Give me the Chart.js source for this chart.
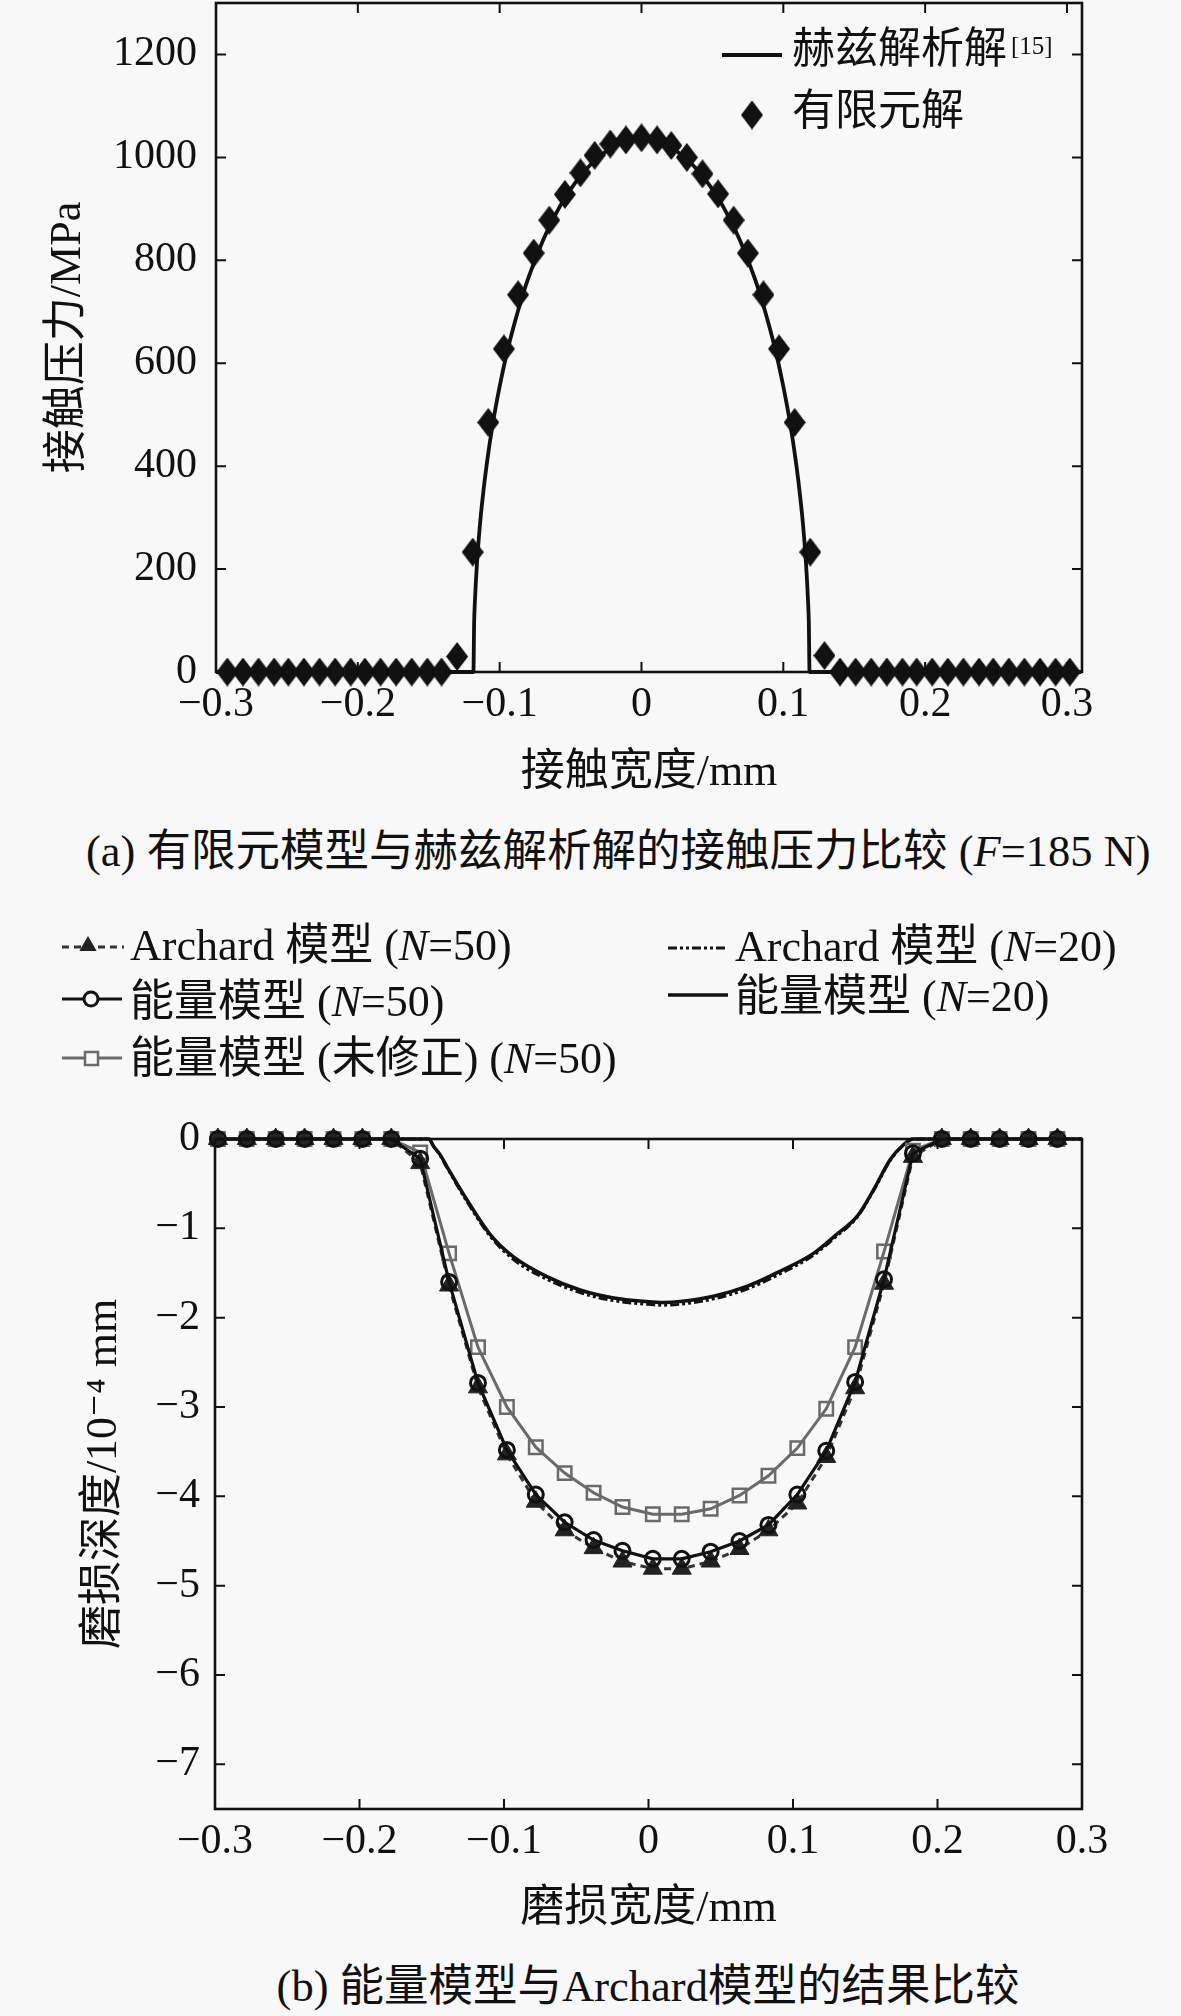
<!DOCTYPE html>
<html><head><meta charset="utf-8">
<script src="https://cdn.jsdelivr.net/npm/chart.js@4.4.1/dist/chart.umd.min.js"></script>
<style>
html,body{margin:0;padding:0;background:#f8f8f8;}
body{width:1181px;height:2016px;position:relative;overflow:hidden;}
canvas{position:absolute;left:0;}
#c1{top:0;} #c2{top:880px;}
.cap{position:absolute;font-size:44.5px;font-family:"Liberation Serif","Noto Sans CJK SC",serif;color:#111;white-space:nowrap;line-height:1;}
</style></head><body>
<canvas id="c1" width="1181" height="810"></canvas>
<canvas id="c2" width="1181" height="1080"></canvas>
<div class="cap" style="left:86px;top:829px;">(a) 有限元模型与赫兹解析解的接触压力比较 (<i>F</i>=185 N)</div>
<div class="cap" style="left:0;width:1296px;text-align:center;top:1964px;">(b) 能量模型与Archard模型的结果比较</div>
<script>
// ---------- Chart (a) data ----------
const xFE = [-0.292,-0.281,-0.270,-0.259,-0.249,-0.238,-0.227,-0.216,-0.205,-0.195,-0.184,-0.173,-0.162,-0.151,-0.141,
  -0.130,-0.119,-0.108,-0.097,-0.087,-0.076,-0.065,-0.054,-0.043,-0.033,-0.022,-0.011,0.000,
  0.011,0.021,0.032,0.043,0.054,0.065,0.075,0.086,0.097,0.108,0.119,0.129,
  0.140,0.151,0.162,0.173,0.184,0.194,0.205,0.216,0.227,0.238,0.248,0.259,0.270,0.281,0.292,0.302];
const pFE = [0,0,0,0,0,0,0,0,0,0,0,0,0,0,0,
  30,233,485,628,733,814,878,928,970,1004,1026,1034,1038,
  1034,1023,1000,968,929,878,814,733,628,485,233,32,
  0,0,0,0,0,0,0,0,0,0,0,0,0,0,0,0];
const xHertz = [-0.300,-0.1185,-0.1180,-0.1175,-0.116,-0.114,-0.112,-0.109,-0.105,-0.100,-0.095,-0.090,-0.085,-0.080,-0.070,-0.065,-0.055,-0.050,-0.040,-0.030,-0.020,-0.010,0.000,
  0.010,0.020,0.030,0.040,0.050,0.055,0.065,0.070,0.080,0.085,0.090,0.095,0.100,0.105,0.109,0.112,0.114,0.116,0.1175,0.1180,0.1185,0.310];
const pHertz = [0,0,95,134,211,283,338,406,480,555,619,673,721,764,835,865,917,938,974,1001,1020,1031,1035,
  1031,1020,1001,974,938,917,865,835,764,721,673,619,555,480,406,338,283,211,134,95,0,0];
const xTicksA = [-0.3,-0.2,-0.1,0,0.1,0.2,0.3];
const xTickLabelsA = ['\u22120.3','\u22120.2','\u22120.1','0','0.1','0.2','0.3'];
const yTicksA = [0,200,400,600,800,1000,1200];
const yTickLabelsA = ['0','200','400','600','800','1000','1200'];

// ---------- Chart (b) data ----------
const xWear = [-0.298,-0.278,-0.258,-0.238,-0.218,-0.198,-0.178,-0.158,-0.138,-0.118,-0.098,-0.078,-0.058,-0.038,-0.018,
  0.003,0.023,0.043,0.063,0.083,0.103,0.123,0.143,0.163,0.183,0.203,0.223,0.243,0.263,0.283];
const archard50 = [0,0,0,0,0,0,0,-0.27,-1.64,-2.78,-3.53,-4.06,-4.38,-4.58,-4.73,
  -4.81,-4.81,-4.73,-4.59,-4.38,-4.08,-3.56,-2.79,-1.62,-0.20,0,0,0,0,0];
const energy50 = [0,0,0,0,0,0,0,-0.22,-1.60,-2.73,-3.48,-3.98,-4.29,-4.49,-4.61,
  -4.70,-4.70,-4.62,-4.50,-4.32,-3.98,-3.49,-2.72,-1.57,-0.16,0,0,0,0,0];
const energyUncorr50 = [0,0,0,0,0,0,0,-0.15,-1.28,-2.33,-3.00,-3.45,-3.74,-3.96,-4.12,
  -4.20,-4.20,-4.14,-3.99,-3.77,-3.46,-3.02,-2.33,-1.26,-0.13,0,0,0,0,0];
const xN20 = [-0.300,-0.152,-0.1488,-0.144,-0.1395,-0.1257,-0.1095,-0.0934,-0.0703,-0.0473,-0.024,-0.001,0.010,0.0219,0.045,0.068,0.091,0.1142,0.130,0.1442,0.1557,0.1673,0.1765,0.1834,0.300];
const energy20 = [0,0,-0.08,-0.18,-0.31,-0.68,-1.07,-1.32,-1.54,-1.69,-1.78,-1.82,-1.83,-1.82,-1.76,-1.65,-1.48,-1.28,-1.07,-0.87,-0.57,-0.23,-0.064,0,0];
const archard20 = [0,0,-0.08,-0.19,-0.32,-0.70,-1.09,-1.35,-1.57,-1.72,-1.81,-1.85,-1.86,-1.85,-1.79,-1.68,-1.51,-1.30,-1.09,-0.88,-0.58,-0.24,-0.065,0,0];
const xTicksB = [-0.3,-0.2,-0.1,0,0.1,0.2,0.3];
const xTickLabelsB = ['\u22120.3','\u22120.2','\u22120.1','0','0.1','0.2','0.3'];
const yTicksB = [0,-1,-2,-3,-4,-5,-6,-7];
const yTickLabelsB = ['0','\u22121','\u22122','\u22123','\u22124','\u22125','\u22126','\u22127'];

// ---------- styling ----------
const FONT = '"Liberation Serif", "Noto Sans CJK SC", "DejaVu Serif", serif';
const INK = '#111';
const GRAY = '#6a6a6a';
const pts = (xs, ys) => xs.map((x, i) => ({x: x, y: ys[i]}));

const diamond = document.createElement('canvas');
diamond.width = 22; diamond.height = 29;
(function(){ const g = diamond.getContext('2d'); g.fillStyle = INK; g.beginPath();
  g.moveTo(11,0); g.lineTo(22,14.5); g.lineTo(11,29); g.lineTo(0,14.5); g.closePath(); g.fill(); })();

const boxTicks = {
  id: 'boxTicks',
  afterDraw(chart) {
    const {ctx, chartArea: a, scales: {x, y}} = chart;
    ctx.save();
    ctx.strokeStyle = INK; ctx.lineWidth = 2.6;
    ctx.strokeRect(a.left, a.top, a.right - a.left, a.bottom - a.top);
    ctx.lineWidth = 2; const L = 10;
    ctx.beginPath();
    x.ticks.forEach(t => { const p = x.getPixelForValue(t.value);
      ctx.moveTo(p, a.bottom); ctx.lineTo(p, a.bottom - L); ctx.moveTo(p, a.top); ctx.lineTo(p, a.top + L); });
    y.ticks.forEach(t => { const p = y.getPixelForValue(t.value);
      ctx.moveTo(a.left, p); ctx.lineTo(a.left + L, p); ctx.moveTo(a.right, p); ctx.lineTo(a.right - L, p); });
    ctx.stroke();
    ctx.restore();
  }
};

function drawRuns(ctx, x, y, runs, size) {
  ctx.textBaseline = 'middle'; ctx.textAlign = 'left'; ctx.fillStyle = INK;
  runs.forEach(r => { ctx.font = (r[1] ? 'italic ' : '') + size + 'px ' + FONT; ctx.fillText(r[0], x, y); x += ctx.measureText(r[0]).width; });
  return x;
}

const legendA = {
  id: 'legendA',
  afterDraw(chart) {
    const ctx = chart.ctx; ctx.save();
    ctx.strokeStyle = INK; ctx.lineWidth = 4;
    ctx.beginPath(); ctx.moveTo(722, 55); ctx.lineTo(782, 55); ctx.stroke();
    const end = drawRuns(ctx, 792, 52, [['赫兹解析解', false]], 43);
    ctx.font = '25px ' + FONT; ctx.textBaseline = 'alphabetic'; ctx.fillStyle = INK; ctx.fillText('[15]', end + 4, 54);
    ctx.drawImage(diamond, 752 - 11, 115 - 14.5);
    drawRuns(ctx, 792, 114, [['有限元解', false]], 43);
    ctx.restore();
  }
};

function tri(ctx, x, y, r) { ctx.beginPath(); ctx.moveTo(x, y - r); ctx.lineTo(x + r * 0.866, y + r / 2); ctx.lineTo(x - r * 0.866, y + r / 2); ctx.closePath(); }

const LF = 44;
const legendB = {
  id: 'legendB',
  afterDraw(chart) {
    const ctx = chart.ctx; const o = 880; ctx.save();
    // Archard N=50
    ctx.strokeStyle = '#333'; ctx.lineWidth = 3; ctx.setLineDash([7, 5]);
    ctx.beginPath(); ctx.moveTo(62, 947 - o); ctx.lineTo(124, 947 - o); ctx.stroke(); ctx.setLineDash([]);
    ctx.fillStyle = '#222'; tri(ctx, 88, 946 - o, 10); ctx.fill();
    drawRuns(ctx, 130, 948 - o, [['Archard 模型 (', false], ['N', true], ['=50)', false]], LF);
    // Energy N=50
    ctx.strokeStyle = INK; ctx.lineWidth = 3;
    ctx.beginPath(); ctx.moveTo(62, 999 - o); ctx.lineTo(122, 999 - o); ctx.stroke();
    ctx.fillStyle = '#f8f8f8'; ctx.beginPath(); ctx.arc(91, 999 - o, 7, 0, Math.PI * 2); ctx.fill(); ctx.stroke();
    drawRuns(ctx, 130, 1004 - o, [['能量模型 (', false], ['N', true], ['=50)', false]], LF);
    // Uncorrected
    ctx.strokeStyle = GRAY; ctx.lineWidth = 3;
    ctx.beginPath(); ctx.moveTo(62, 1058 - o); ctx.lineTo(122, 1058 - o); ctx.stroke();
    ctx.lineWidth = 2.5; ctx.fillStyle = '#f8f8f8'; ctx.fillRect(85, 1052 - o, 13, 13); ctx.strokeRect(85, 1052 - o, 13, 13);
    drawRuns(ctx, 130, 1061 - o, [['能量模型 (未修正) (', false], ['N', true], ['=50)', false]], LF);
    // Archard N=20
    ctx.strokeStyle = INK; ctx.lineWidth = 3; ctx.setLineDash([9, 3, 3, 3, 3, 3]);
    ctx.beginPath(); ctx.moveTo(668, 948 - o); ctx.lineTo(728, 948 - o); ctx.stroke(); ctx.setLineDash([]);
    drawRuns(ctx, 735, 949 - o, [['Archard 模型 (', false], ['N', true], ['=20)', false]], LF);
    // Energy N=20
    ctx.lineWidth = 3.5;
    ctx.beginPath(); ctx.moveTo(668, 995 - o); ctx.lineTo(728, 995 - o); ctx.stroke();
    drawRuns(ctx, 735, 999 - o, [['能量模型 (', false], ['N', true], ['=20)', false]], LF);
    ctx.restore();
  }
};

function axisCommon() {
  return {
    type: 'linear',
    grid: {display: false, drawTicks: false},
    border: {display: false},
  };
}
const tickFont = {size: 42, family: FONT};
const titleFont = {size: 44, family: FONT};

new Chart(document.getElementById('c1'), {
  type: 'scatter',
  data: {datasets: [
    {label: '有限元解', data: pts(xFE, pFE), pointStyle: diamond, pointRadius: 11, pointHoverRadius: 11, showLine: false, clip: false},
    {type: 'line', label: '赫兹解析解', data: pts(xHertz, pHertz), borderColor: INK, borderWidth: 3.8, pointRadius: 0, fill: false, cubicInterpolationMode: 'monotone', clip: false}
  ]},
  options: {
    responsive: false, animation: false, devicePixelRatio: 1,
    layout: {autoPadding: false, padding: {top: 3, right: 99, bottom: 0, left: 0}},
    plugins: {legend: {display: false}, tooltip: {enabled: false}},
    scales: {
      x: Object.assign(axisCommon(), {
        min: -0.3, max: 0.3106,
        afterBuildTicks: s => { s.ticks = xTicksA.map(v => ({value: v})); },
        afterFit: s => { s.height = 138; s.paddingLeft = 0; s.paddingRight = 0; },
        ticks: {autoSkip: false, maxRotation: 0, minRotation: 0, padding: 8, color: INK, font: tickFont, callback: (v, i) => xTickLabelsA[i]},
        title: {display: true, text: '接触宽度/mm', color: INK, font: titleFont, padding: {top: 0, bottom: 10}}
      }),
      y: Object.assign(axisCommon(), {
        min: 0, max: 1300,
        afterBuildTicks: s => { s.ticks = yTicksA.map(v => ({value: v})); },
        afterFit: s => { s.width = 216; s.paddingTop = 0; s.paddingBottom = 0; },
        ticks: {autoSkip: false, padding: 19, color: INK, font: tickFont, callback: (v, i) => yTickLabelsA[i]},
        title: {display: true, text: '接触压力/MPa', color: INK, font: titleFont, padding: {top: 42, bottom: 0}}
      })
    }
  },
  plugins: [boxTicks, legendA]
});

new Chart(document.getElementById('c2'), {
  type: 'scatter',
  data: {datasets: [
    {type: 'line', label: '能量模型 (N=50)', data: pts(xWear, energy50), borderColor: INK, borderWidth: 3.2, pointStyle: 'circle', pointRadius: 7.5, pointBorderWidth: 3, pointBorderColor: INK, pointBackgroundColor: 'rgba(0,0,0,0)', tension: 0, clip: false},
    {type: 'line', label: 'Archard 模型 (N=50)', data: pts(xWear, archard50), borderColor: '#333', borderWidth: 3, borderDash: [7, 5], pointStyle: 'triangle', pointRadius: 11, pointBorderWidth: 1, pointBorderColor: '#222', pointBackgroundColor: '#222', tension: 0, clip: false},
    {type: 'line', label: '能量模型 (未修正) (N=50)', data: pts(xWear, energyUncorr50), borderColor: GRAY, borderWidth: 3, pointStyle: 'rect', pointRadius: 9.5, pointBorderWidth: 2.5, pointBorderColor: GRAY, pointBackgroundColor: 'rgba(0,0,0,0)', tension: 0, clip: false},
    {type: 'line', label: '能量模型 (N=20)', data: pts(xN20, energy20), borderColor: INK, borderWidth: 3.5, pointRadius: 0, cubicInterpolationMode: 'monotone', clip: false},
    {type: 'line', label: 'Archard 模型 (N=20)', data: pts(xN20, archard20), borderColor: INK, borderWidth: 3, borderDash: [9, 3, 3, 3, 3, 3], pointRadius: 0, cubicInterpolationMode: 'monotone', clip: false}
  ]},
  options: {
    responsive: false, animation: false, devicePixelRatio: 1,
    layout: {autoPadding: false, padding: {top: 259, right: 99, bottom: 0, left: 0}},
    plugins: {legend: {display: false}, tooltip: {enabled: false}},
    scales: {
      x: Object.assign(axisCommon(), {
        min: -0.3, max: 0.3,
        afterBuildTicks: s => { s.ticks = xTicksB.map(v => ({value: v})); },
        afterFit: s => { s.height = 151; s.paddingLeft = 0; s.paddingRight = 0; },
        ticks: {autoSkip: false, maxRotation: 0, minRotation: 0, padding: 8, color: INK, font: tickFont, callback: (v, i) => xTickLabelsB[i]},
        title: {display: true, text: '磨损宽度/mm', color: INK, font: titleFont, padding: {top: 0, bottom: 24}}
      }),
      y: Object.assign(axisCommon(), {
        min: -7.5, max: 0,
        afterBuildTicks: s => { s.ticks = yTicksB.map(v => ({value: v})); },
        afterFit: s => { s.width = 215; s.paddingTop = 0; s.paddingBottom = 0; },
        ticks: {autoSkip: false, padding: 15, color: INK, font: tickFont, callback: (v, i) => yTickLabelsB[i]},
        title: {display: true, text: '磨损深度/10\u207B\u2074 mm', color: INK, font: titleFont, padding: {top: 78, bottom: 0}}
      })
    }
  },
  plugins: [boxTicks, legendB]
});
</script>
</body></html>
